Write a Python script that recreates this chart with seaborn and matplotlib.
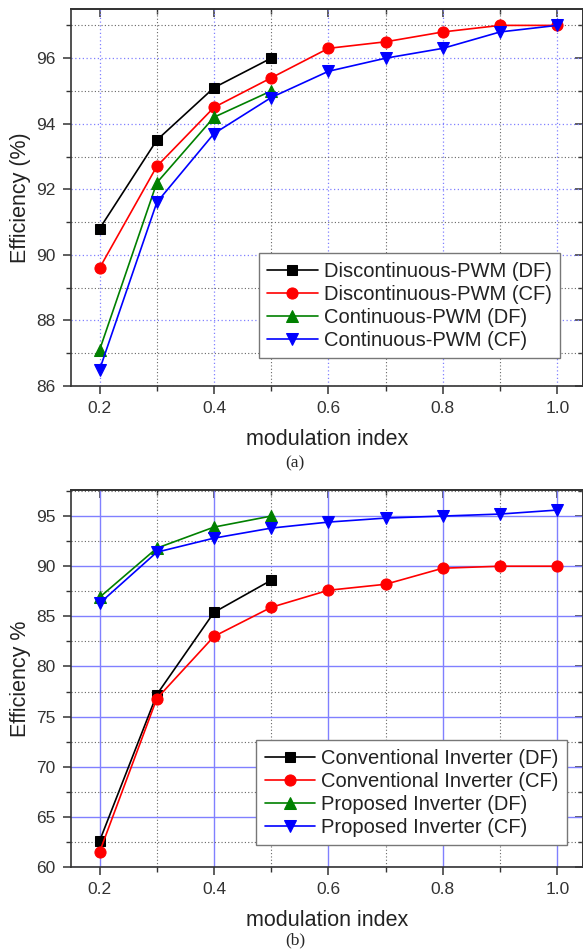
import numpy as np
import pandas as pd
import matplotlib
matplotlib.use('Agg')
import matplotlib.pyplot as plt
import seaborn as sns
from matplotlib.ticker import MultipleLocator

# (a) 변조 방식별 효율
m_index = [0.2, 0.3, 0.4, 0.5, 0.6, 0.7, 0.8, 0.9, 1.0]
m_short = [0.2, 0.3, 0.4, 0.5]

a_dpwm_df = [90.8, 93.5, 95.1, 96.0]
a_dpwm_cf = [89.6, 92.7, 94.5, 95.4, 96.3, 96.5, 96.8, 97.0, 97.0]
a_cpwm_df = [87.1, 92.2, 94.2, 95.0]
a_cpwm_cf = [86.5, 91.6, 93.7, 94.8, 95.6, 96.0, 96.3, 96.8, 97.0]
a_labels = ['Discontinuous-PWM (DF)', 'Discontinuous-PWM (CF)',
            'Continuous-PWM (DF)', 'Continuous-PWM (CF)']

# (b) 인버터별 효율
b_conv_df = [62.6, 77.2, 85.4, 88.6]
b_conv_cf = [61.5, 76.8, 83.0, 85.9, 87.6, 88.2, 89.8, 90.0, 90.0]
b_prop_df = [86.9, 91.8, 93.9, 95.0]
b_prop_cf = [86.3, 91.4, 92.8, 93.8, 94.4, 94.8, 95.0, 95.2, 95.6]
b_labels = ['Conventional Inverter (DF)', 'Conventional Inverter (CF)',
            'Proposed Inverter (DF)', 'Proposed Inverter (CF)']

colors = ['black', 'red', 'green', 'blue']
markers = ['s', 'o', '^', 'v']
msizes = [6.5, 8, 8, 8]

sns.set_theme(style='ticks')
plt.rcParams['font.family'] = ['Liberation Sans', 'DejaVu Sans']

fig = plt.figure(figsize=(5.83, 9.5), dpi=100)
ax_a = fig.add_axes([71/583, 1-386/950, 512/583, 377/950])
ax_b = fig.add_axes([71/583, 1-867/950, 512/583, 377/950])


def draw(ax, series, labels):
    for (xs, ys), lab, c, m, ms in zip(series, labels, colors, markers, msizes):
        sns.lineplot(x=xs, y=ys, ax=ax, color=c, marker=m, markersize=ms,
                     markeredgecolor=c, linewidth=1.2, label=lab, errorbar=None)


def style_axes(ax, ylim, ymaj, ymin, grid_major):
    ax.set_xlim(0.15, 1.045)
    ax.set_ylim(*ylim)
    ax.xaxis.set_major_locator(MultipleLocator(0.2))
    ax.xaxis.set_minor_locator(MultipleLocator(0.1))
    ax.yaxis.set_major_locator(MultipleLocator(ymaj))
    ax.yaxis.set_minor_locator(MultipleLocator(ymin))
    ax.set_xticks([0.2, 0.4, 0.6, 0.8, 1.0])
    ax.set_xticklabels(['0.2', '0.4', '0.6', '0.8', '1.0'])
    ax.grid(which='minor', color='#666666', linestyle=(0, (1, 2)), linewidth=0.8)
    ax.grid(which='major', **grid_major)
    ax.set_axisbelow(True)
    for s in ax.spines.values():
        s.set_visible(True)
        s.set_color('#333333')
        s.set_linewidth(1.2)
    ax.tick_params(which='major', direction='out', length=6, width=1.1,
                   labelsize=12.5, colors='#333333', pad=5)
    ax.tick_params(which='minor', direction='out', length=3.5, width=1.0,
                   colors='#333333')
    ax.tick_params(which='both', labelcolor='#333333')
    # 위/오른쪽 축은 안쪽 눈금
    top = ax.secondary_xaxis('top')
    top.xaxis.set_major_locator(MultipleLocator(0.2))
    top.xaxis.set_minor_locator(MultipleLocator(0.1))
    top.tick_params(which='major', direction='in', length=6, width=1.1,
                    labeltop=False, colors='#333333')
    top.tick_params(which='minor', direction='in', length=3.5, width=1.0,
                    colors='#333333')
    right = ax.secondary_yaxis('right')
    right.yaxis.set_major_locator(MultipleLocator(ymaj))
    right.yaxis.set_minor_locator(MultipleLocator(ymin))
    right.tick_params(which='major', direction='in', length=6, width=1.1,
                      labelright=False, colors='#333333')
    right.tick_params(which='minor', direction='in', length=3.5, width=1.0,
                      colors='#333333')
    ax.set_xlabel('modulation index', fontsize=15.5, color='#222222')
    ax.xaxis.set_label_coords(0.5, -0.115)


draw(ax_a, [(m_short, a_dpwm_df), (m_index, a_dpwm_cf),
            (m_short, a_cpwm_df), (m_index, a_cpwm_cf)], a_labels)
style_axes(ax_a, (86, 97.5), 2, 1,
           dict(color='#8080ff', linestyle=(0, (1, 2)), linewidth=0.9))
ax_a.set_ylabel('Efficiency (%)', fontsize=15.5, color='#222222')
ax_a.yaxis.set_label_coords(-0.078, 0.5)

draw(ax_b, [(m_short, b_conv_df), (m_index, b_conv_cf),
            (m_short, b_prop_df), (m_index, b_prop_cf)], b_labels)
style_axes(ax_b, (60, 97.6), 5, 2.5,
           dict(color='#8080ff', linestyle='-', linewidth=1.0))
ax_b.set_ylabel('Efficiency %', fontsize=15.5, color='#222222')
ax_b.yaxis.set_label_coords(-0.078, 0.5)

for ax, anchor in [(ax_a, (0.955, 0.074)), (ax_b, (0.969, 0.058))]:
    leg = ax.legend(loc='lower right', bbox_to_anchor=anchor, borderaxespad=0,
                    fontsize=14.5, fancybox=False, framealpha=1,
                    edgecolor='#777777', handlelength=2.5, handletextpad=0.3,
                    labelspacing=0.2, borderpad=0.42)
    leg.get_frame().set_linewidth(1.0)
    for t in leg.get_texts():
        t.set_color('#222222')

fig.text(295/583, 1-463/950, '(a)', ha='center', va='center',
         family=['Liberation Serif', 'DejaVu Serif'], fontsize=12.5)
fig.text(295/583, 1-940/950, '(b)', ha='center', va='center',
         family=['Liberation Serif', 'DejaVu Serif'], fontsize=12.5)

plt.savefig('out.png', dpi=100)
